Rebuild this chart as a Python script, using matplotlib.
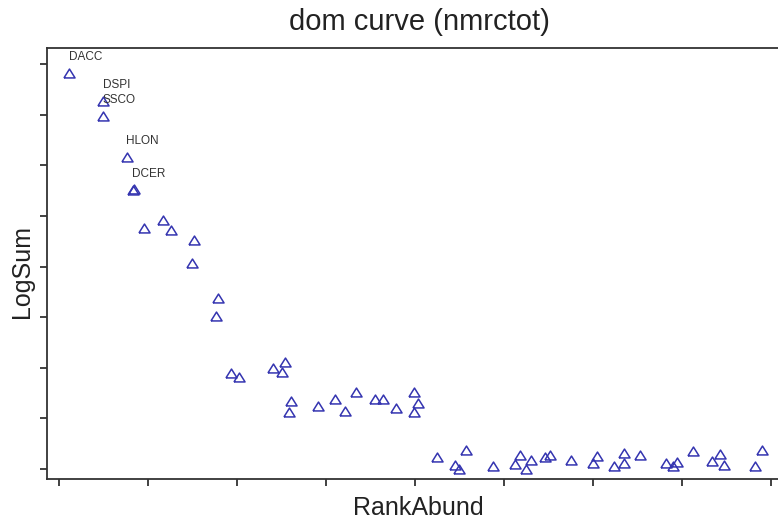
import matplotlib
matplotlib.use("Agg")
import matplotlib.pyplot as plt

# rank-abundance positions and log sums
rank_abund = [1.16, 4.98, 4.91, 7.61, 8.28, 8.40, 9.58, 11.65, 12.58, 15.20, 14.98,
              17.90, 17.64, 19.36, 20.19, 24.01, 25.09, 25.39, 26.03, 25.88, 29.13,
              31.01, 32.13, 33.37, 35.51, 36.37, 37.87, 39.92, 40.37, 39.92, 42.51,
              44.49, 44.98, 45.73, 48.80, 51.24, 51.74, 52.47, 53.00, 54.61, 55.17,
              57.53, 59.97, 60.42, 62.36, 63.48, 63.48, 65.28, 68.17, 69.02, 69.40,
              71.24, 73.37, 74.30, 74.69, 78.15, 79.01]
log_sum = [7.82, 7.28, 6.98, 6.17, 5.51, 5.53, 4.76, 4.93, 4.72, 4.53, 4.07,
           3.37, 3.02, 1.90, 1.82, 1.99, 1.91, 2.12, 1.35, 1.13, 1.25,
           1.38, 1.15, 1.52, 1.38, 1.38, 1.20, 1.52, 1.30, 1.13, 0.24,
           0.08, -0.01, 0.38, 0.05, 0.10, 0.28, 0.00, 0.18, 0.24, 0.28,
           0.18, 0.12, 0.26, 0.05, 0.11, 0.31, 0.28, 0.12, 0.06, 0.14,
           0.36, 0.16, 0.29, 0.07, 0.05, 0.37]
species = ["DACC", "DSPI", "SSCO", "HLON", "DCER"]

x_ticks = [0, 10, 20, 30, 40, 50, 60, 70, 80]
y_ticks = [0, 1, 2, 3, 4, 5, 6, 7, 8]

plt.rcParams["font.family"] = ["Liberation Sans", "DejaVu Sans"]

fig = plt.figure(figsize=(7.78, 5.21), dpi=100)
ax = fig.add_axes([47 / 778, 42 / 521, 743 / 778, 431 / 521])

blue = "#3434b0"
tri = [(-1, -0.8), (1, -0.8), (0, 0.8), (-1, -0.8)]
ax.plot(rank_abund, log_sum, linestyle="none", marker=tri, markersize=8,
        markerfacecolor="none", markeredgecolor=blue, markeredgewidth=1.1)

# labels for the dominant species
for name, x, y in zip(species, rank_abund, log_sum):
    ax.annotate(name, (x, y), xytext=(-0.5, 11.5), textcoords="offset points",
                ha="left", va="center", fontsize=8.5, color="#333333")

ax.set_xlim(-1.35, 82.13)
ax.set_ylim(-0.198, 8.32)
ax.set_xticks(x_ticks)
ax.set_yticks(y_ticks)
ax.set_xticklabels([])
ax.set_yticklabels([])
ax.tick_params(direction="out", length=5, width=1.3, color="#333333")

for side in ["left", "bottom", "top"]:
    ax.spines[side].set_linewidth(1.3)
    ax.spines[side].set_color("#333333")
ax.spines["right"].set_visible(False)

fig.text(419 / 778, 1 - 22 / 521, "dom curve (nmrctot)", ha="center", va="center",
         fontsize=21, color="#222222")
fig.text(418 / 778, 1 - 508 / 521, "RankAbund", ha="center", va="center",
         fontsize=18, color="#222222")
fig.text(22 / 778, 1 - 272 / 521, "LogSum", ha="center", va="center",
         rotation=90, fontsize=18, color="#222222")

fig.savefig("out.png", dpi=100)
